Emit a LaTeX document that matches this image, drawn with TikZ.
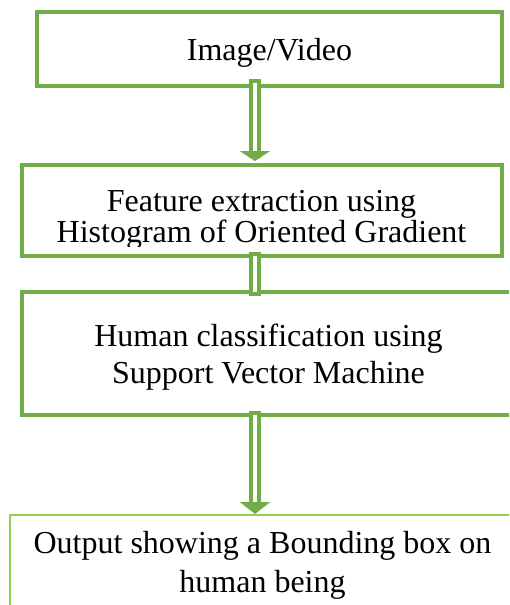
\documentclass[tikz,border=0pt]{standalone}
\usepackage{fontspec}
\setmainfont{Liberation Serif}
\usetikzlibrary{arrows.meta,calc}
\definecolor{boxgreen}{HTML}{70AD47}
\definecolor{lightgreen}{HTML}{92D050}
\begin{document}
\begin{tikzpicture}[x=1pt,y=-1pt,
  boxline/.style={draw=boxgreen, line width=4pt, inner sep=0pt, minimum width=#1},
  thinbox/.style={draw=lightgreen, line width=2pt, inner sep=0pt, minimum width=#1},
  txt/.style={inner sep=0pt, align=center, anchor=base, text=black},
  dbl/.style={draw=boxgreen, line width=4pt, double=white, double distance=4pt, line cap=rect}
]
\useasboundingbox (0,0) rectangle (509,605);
\clip (0,0) rectangle (509,605);
% texts (base anchor = baseline of the last line)
\node[txt, font=\fontsize{32}{37}\selectfont] (t1) at (269.5,60) {Image/Video};
\begin{scope}
\clip (0,0) rectangle (509,246);
\node[txt, font=\fontsize{32}{27}\selectfont] (t2) at (261.5,242) {Feature extraction using\\Histogram of Oriented Gradient};
\end{scope}
\node[txt, font=\fontsize{32}{37}\selectfont] (t3) at (268.5,383) {Human classification using\\Support Vector Machine};
\node[txt, font=\fontsize{32}{38.5}\selectfont] (t4) at (262.5,592) {Output showing a Bounding box on\\human being};
% boxes
\node[boxline=465.5pt, minimum height=74pt] (b1) at (269.25,49) {};
\node[boxline=480pt, minimum height=91pt] (b2) at (262,210.5) {};
\node[boxline=493pt, minimum height=123pt] (b3) at (268.5,353.5) {};
\node[thinbox=506pt, minimum height=145pt] (b4) at (262.5,587.5) {};
% connectors
\coordinate (ax) at (255,0);
\draw[dbl, -{Triangle[width=30pt,length=10pt]}] ([yshift=3pt]ax |- b1.south) -- ([yshift=2pt]ax |- b2.north);
\draw[dbl] (ax |- b2.south) -- (ax |- b3.north);
\draw[dbl, -{Triangle[width=30pt,length=12pt]}] (ax |- b3.south) -- (ax |- b4.north);
\end{tikzpicture}
\end{document}
